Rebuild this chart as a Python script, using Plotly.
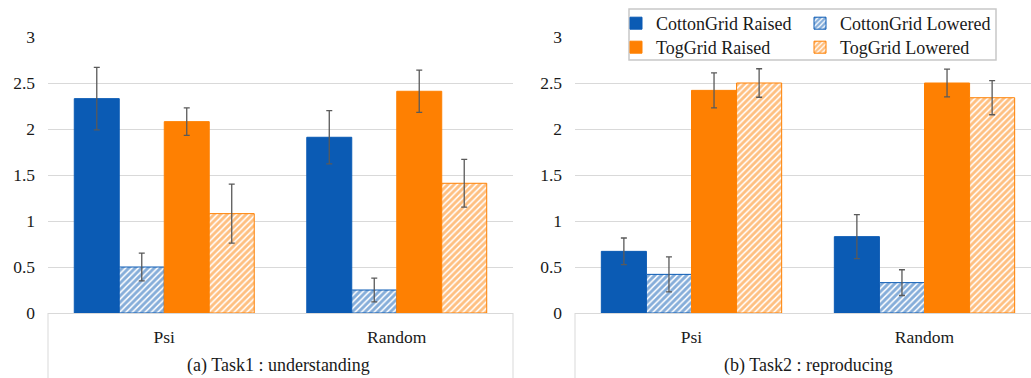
import plotly.graph_objects as go

categories = ["Psi", "Random"]
series = ["CottonGrid Raised", "CottonGrid Lowered", "TogGrid Raised", "TogGrid Lowered"]

task1_values = {
    "CottonGrid Raised": [2.33, 1.91],
    "CottonGrid Lowered": [0.50, 0.25],
    "TogGrid Raised": [2.08, 2.41],
    "TogGrid Lowered": [1.08, 1.41],
}
task1_errors = {
    "CottonGrid Raised": [0.34, 0.29],
    "CottonGrid Lowered": [0.15, 0.13],
    "TogGrid Raised": [0.15, 0.23],
    "TogGrid Lowered": [0.32, 0.26],
}
task2_values = {
    "CottonGrid Raised": [0.67, 0.83],
    "CottonGrid Lowered": [0.42, 0.33],
    "TogGrid Raised": [2.42, 2.50],
    "TogGrid Lowered": [2.50, 2.34],
}
task2_errors = {
    "CottonGrid Raised": [0.145, 0.24],
    "CottonGrid Lowered": [0.19, 0.14],
    "TogGrid Raised": [0.19, 0.15],
    "TogGrid Lowered": [0.155, 0.185],
}
y_ticks = [0, 0.5, 1, 1.5, 2, 2.5, 3]
y_ticktext = ["0", "0.5", "1", "1.5", "2", "2.5", "3"]
captions = ["(a) Task1 : understanding", "(b) Task2 : reproducing"]

BLUE = "#0B5BB4"
ORANGE = "#FE8002"
colors = {
    "CottonGrid Raised": BLUE,
    "CottonGrid Lowered": BLUE,
    "TogGrid Raised": ORANGE,
    "TogGrid Lowered": ORANGE,
}
hatched = {"CottonGrid Lowered", "TogGrid Lowered"}
# one legend per entry so the 2x2 grid can be placed exactly
legend_of = {
    "CottonGrid Raised": "legend",
    "CottonGrid Lowered": "legend2",
    "TogGrid Raised": "legend3",
    "TogGrid Lowered": "legend4",
}
FONT = "Liberation Serif, Times New Roman, serif"
TXT = "#1a1a1a"
GRID = "#D9D9D9"

W, H = 1031, 378
fig = go.Figure()

xpos = list(range(len(categories)))
for panel, (vals, errs, xa, ya) in enumerate([
    (task1_values, task1_errors, "x", "y"),
    (task2_values, task2_errors, "x2", "y2"),
]):
    for s in series:
        c = colors[s]
        marker = dict(color=c, line=dict(color=c, width=1))
        if s in hatched:
            marker = dict(
                color="white",
                line=dict(color=c, width=1),
                pattern=dict(shape="/", fgcolor=c, bgcolor="white", size=4.5, solidity=0.65, fillmode="overlay"),
            )
        fig.add_trace(go.Bar(
            x=xpos, y=vals[s], name=s, marker=marker,
            error_y=dict(type="data", array=errs[s], color="#5a5a5a", thickness=1.3, width=3),
            xaxis=xa, yaxis=ya, showlegend=(panel == 1), legend=legend_of[s],
        ))

y0_px, y3_px = 313, 37
ydom = [(H - y0_px) / H, (H - y3_px) / H]
x1_dom = [48 / W, 513 / W]
x2_dom = [575 / W, 1.0]
# right panel is cropped: category width 233 px, Psi centre at 692 px
x2_range = [-0.5, -0.5 + (1031 - 575) / 233.0]

axis_x = dict(
    tickvals=xpos, ticktext=categories, showgrid=False, zeroline=False,
    showline=True, linecolor=GRID, linewidth=1, ticks="", automargin=False,
    tickfont=dict(family=FONT, size=17.5, color=TXT), ticklabelstandoff=8,
)
axis_y = dict(
    range=[0, 3], tickvals=y_ticks, ticktext=y_ticktext, showgrid=True,
    gridcolor=GRID, gridwidth=1, zeroline=False, showline=False, ticks="",
    automargin=False,
    tickfont=dict(family=FONT, size=17.5, color=TXT), ticklabelstandoff=12,
)


def leg(xpx, ytop_px):
    return dict(
        x=xpx / W, y=1 - ytop_px / H, xanchor="left", yanchor="top",
        bgcolor="rgba(0,0,0,0)", font=dict(family=FONT, size=18, color=TXT),
        orientation="v", itemwidth=30, tracegroupgap=0,
    )


fig.update_layout(
    width=W, height=H,
    margin=dict(l=0, r=0, t=0, b=0, autoexpand=False),
    paper_bgcolor="white", plot_bgcolor="white",
    barmode="group", bargap=0.226, bargroupgap=0,
    xaxis=dict(domain=x1_dom, range=[-0.5, 1.5], anchor="y", **axis_x),
    yaxis=dict(domain=ydom, anchor="x", **axis_y),
    xaxis2=dict(domain=x2_dom, range=x2_range, anchor="y2", **axis_x),
    yaxis2=dict(domain=ydom, anchor="x2", **axis_y),
    legend=leg(616, 5),
    legend2=leg(800, 5),
    legend3=leg(616, 29),
    legend4=leg(800, 29),
)

# Excel-style category box lines below the axis
box_top = (H - y0_px) / H
for xp in [48, 513, 575]:
    fig.add_shape(type="line", xref="paper", yref="paper", x0=xp / W, x1=xp / W,
                  y0=0, y1=box_top, line=dict(color=GRID, width=1))

# legend frame
fig.add_shape(type="rect", xref="paper", yref="paper",
              x0=629 / W, x1=996 / W, y0=1 - 60 / H, y1=1 - 9 / H,
              line=dict(color="#C8C8C8", width=1.5), fillcolor="white", layer="above")

for cap, xc in zip(captions, [278, 808]):
    fig.add_annotation(text=cap, xref="paper", yref="paper", x=xc / W, y=(H - 365) / H,
                       xanchor="center", yanchor="middle", showarrow=False,
                       font=dict(family=FONT, size=18, color=TXT))

fig.write_html(
    "out.html",
    config={"displayModeBar": False},
    post_script="document.body.style.margin='0';document.body.style.overflow='hidden';",
)
